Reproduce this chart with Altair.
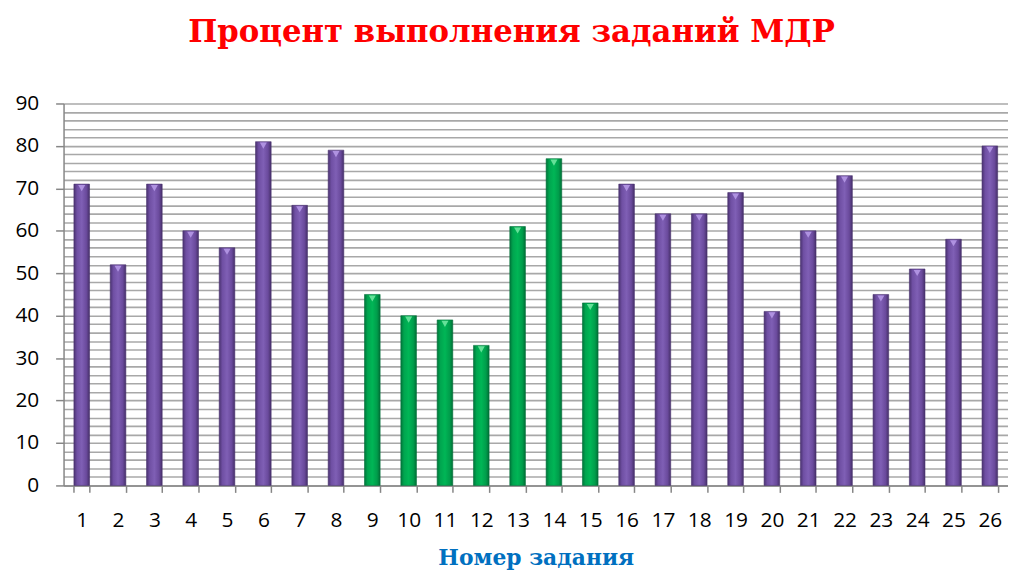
import altair as alt
import pandas as pd

tasks = [str(i) for i in range(1, 27)]
values = [71, 52, 71, 60, 56, 81, 66, 79, 45, 40, 39, 33, 61, 77, 43,
          71, 64, 64, 69, 41, 60, 73, 45, 51, 58, 80]
groups = ["purple"] * 8 + ["green"] * 7 + ["purple"] * 11

df = pd.DataFrame({"task": tasks, "value": values, "group": groups})

purple_grad = alt.LinearGradient(
    gradient="linear", x1=0, x2=1, y1=0, y2=0,
    stops=[alt.GradientStop(color="#4a3270", offset=0),
           alt.GradientStop(color="#6f4fa3", offset=0.2),
           alt.GradientStop(color="#7f5fb5", offset=0.5),
           alt.GradientStop(color="#6a4a9c", offset=0.8),
           alt.GradientStop(color="#463069", offset=1)])
green_grad = alt.LinearGradient(
    gradient="linear", x1=0, x2=1, y1=0, y2=0,
    stops=[alt.GradientStop(color="#00753a", offset=0),
           alt.GradientStop(color="#00a54f", offset=0.2),
           alt.GradientStop(color="#00b656", offset=0.5),
           alt.GradientStop(color="#009d4b", offset=0.8),
           alt.GradientStop(color="#006f36", offset=1)])

x_enc = alt.X("task:N", sort=tasks, title="Номер задания",
              scale=alt.Scale(paddingInner=0.57, paddingOuter=0.285),
              axis=alt.Axis(labelAngle=0, tickBand="extent", tickSize=7,
                            tickColor="#868686", tickWidth=1.5,
                            domainColor="#868686", domainWidth=1.5,
                            labelFont="Open Sans", labelFontSize=21,
                            labelColor="#000000", labelPadding=17,
                            titleFont="DejaVu Serif", titleFontSize=22,
                            titleFontWeight="bold", titleColor="#0070C0",
                            titlePadding=18, grid=False))
y_enc = alt.Y("value:Q", title=None,
              scale=alt.Scale(domain=[0, 90], nice=False),
              axis=alt.Axis(values=list(range(0, 91, 2)),
                            labelExpr="datum.value % 10 === 0 ? datum.label : ''",
                            tickOpacity={"condition": {"test": "datum.value % 10 === 0", "value": 1}, "value": 0},
                            tickSize=8, tickColor="#868686", tickWidth=1.5,
                            domainColor="#868686", domainWidth=1.5,
                            gridColor="#a8a8a8", gridWidth=1.6,
                            labelFont="Open Sans", labelFontSize=21,
                            labelColor="#000000", labelPadding=17))

base = alt.Chart(df).encode(x=x_enc, y=y_enc)

purple = base.transform_filter(alt.datum.group == "purple").mark_bar(
    color=purple_grad, stroke="#4a3270", strokeWidth=0.6)
green = base.transform_filter(alt.datum.group == "green").mark_bar(
    color=green_grad, stroke="#00703a", strokeWidth=0.6)

cap_p = base.transform_filter(alt.datum.group == "purple").mark_point(
    shape="triangle-down", filled=True, size=50, color="#b598e6", opacity=0.9,
    yOffset=4)
cap_g = base.transform_filter(alt.datum.group == "green").mark_point(
    shape="triangle-down", filled=True, size=50, color="#6fe6a0", opacity=0.9,
    yOffset=4)

chart = alt.layer(purple, green, cap_p, cap_g).properties(
    width=952, height=385,
    padding={"left": 6, "top": 7, "right": 0, "bottom": 0},
    title=alt.TitleParams("Процент выполнения заданий МДР",
                          font="DejaVu Serif", fontSize=31, fontWeight="bold",
                          color="#FF0000", anchor="middle", frame="bounds",
                          offset=44),
).configure_view(stroke=None)

chart.save("out.html", embed_options={"renderer": "svg", "actions": False})
